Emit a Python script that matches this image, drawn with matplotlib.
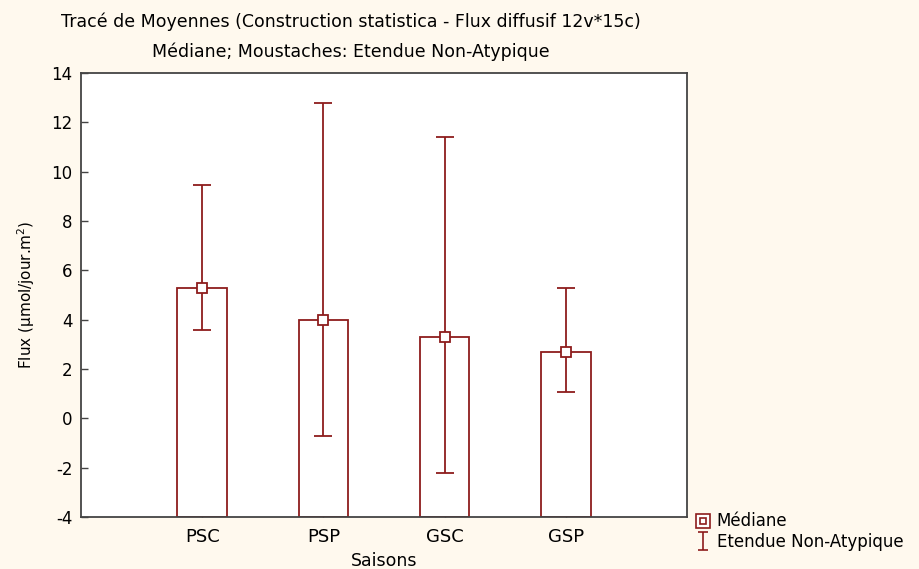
import matplotlib
matplotlib.use("Agg")
import matplotlib.pyplot as plt
from matplotlib.lines import Line2D
from matplotlib.path import Path
from matplotlib.legend_handler import HandlerTuple
import numpy as np

plt.rcParams['font.family'] = ['DejaVu Sans']

categories = ["PSC", "PSP", "GSC", "GSP"]
medians = [5.3, 4.0, 3.3, 2.7]
whisker_low = [3.6, -0.7, -2.2, 1.05]
whisker_high = [9.45, 12.8, 11.4, 5.3]
yticks = [-4, -2, 0, 2, 4, 6, 8, 10, 12, 14]

red = '#8E1C1C'
bg = '#FFF9EE'

fig = plt.figure(figsize=(9.19, 5.69), dpi=100, facecolor=bg)
ax = fig.add_axes([0.0881, 0.0914, 0.7476 - 0.0881, 0.8717 - 0.0914])
ax.set_facecolor('white')

x = np.arange(1, len(categories) + 1)
base = -4
ax.bar(x, np.array(medians) - base, bottom=base, width=0.41, facecolor='white',
       edgecolor=red, linewidth=1.3, zorder=2)
lo = np.array(medians) - np.array(whisker_low)
hi = np.array(whisker_high) - np.array(medians)
ax.errorbar(x, medians, yerr=[lo, hi], fmt='none', ecolor=red, elinewidth=1.3,
            capsize=6.5, capthick=1.3, zorder=3)
ax.plot(x, medians, linestyle='none', marker='s', markersize=7, markerfacecolor='white',
        markeredgecolor=red, markeredgewidth=1.3, zorder=4)

ax.set_xlim(0, 5)
ax.set_ylim(-4, 14)
ax.set_xticks(x)
ax.set_xticklabels(categories, fontsize=13)
ax.set_yticks(yticks)
ax.set_yticklabels([str(t) for t in yticks], fontsize=12)
ax.tick_params(axis='y', direction='in', length=5, width=1, color='#444444', pad=6)
ax.tick_params(axis='x', direction='in', length=3, width=1, color='#444444', pad=8)
for s in ax.spines.values():
    s.set_color('#444444')
    s.set_linewidth(1.3)

ax.set_xlabel("Saisons", fontsize=12.5, labelpad=4.5)
ax.set_ylabel("Flux (µmol/jour.m$^2$)", fontsize=11, labelpad=10)

fig.text(351 / 919, 1 - 22 / 569, "Tracé de Moyennes (Construction statistica - Flux diffusif 12v*15c)",
         ha='center', va='center', fontsize=12.5)
fig.text(351 / 919, 1 - 52 / 569, "Médiane; Moustaches: Etendue Non-Atypique",
         ha='center', va='center', fontsize=12.5)

h_outer = Line2D([], [], linestyle='none', marker='s', markersize=10, markerfacecolor='white',
                 markeredgecolor=red, markeredgewidth=1.2)
h_inner = Line2D([], [], linestyle='none', marker='s', markersize=5, markerfacecolor='white',
                 markeredgecolor=red, markeredgewidth=1.2)
ibeam = Path([(-0.5, -1), (0.5, -1), (0, -1), (0, 1), (-0.5, 1), (0.5, 1)],
             [Path.MOVETO, Path.LINETO, Path.MOVETO, Path.LINETO, Path.MOVETO, Path.LINETO])
h_whisk = Line2D([], [], linestyle='none', marker=ibeam, markersize=13, markerfacecolor='none',
                 markeredgecolor=red, markeredgewidth=1.2)
leg = fig.legend([(h_outer, h_inner), h_whisk], ["Médiane", "Etendue Non-Atypique"],
                 handler_map={tuple: HandlerTuple(ndivide=1, pad=0)},
                 loc='lower left', bbox_to_anchor=(685 / 919, 1 - 561 / 569),
                 frameon=False, fontsize=12, handlelength=1.0, handletextpad=0.3,
                 labelspacing=0.15, borderpad=0.1)

fig.savefig("out.png", dpi=100, facecolor=bg)
